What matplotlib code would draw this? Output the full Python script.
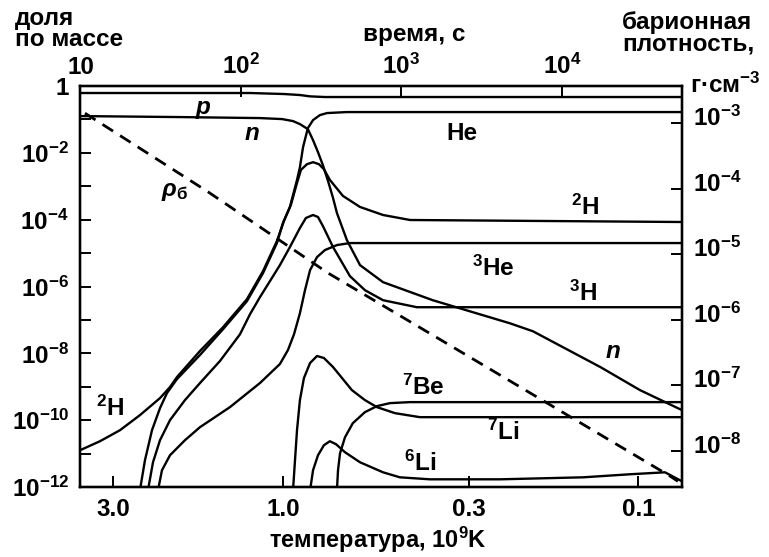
import matplotlib.pyplot as plt
import numpy as np
from matplotlib.ticker import FixedLocator, FixedFormatter, NullLocator
from matplotlib.transforms import ScaledTranslation

plt.rcParams['font.family'] = ['Liberation Sans', 'DejaVu Sans']
plt.rcParams['font.weight'] = 'bold'
plt.rcParams['mathtext.fontset'] = 'custom'
plt.rcParams['mathtext.rm'] = 'Liberation Sans:bold'
plt.rcParams['mathtext.it'] = 'Liberation Sans:bold:italic'
plt.rcParams['mathtext.bf'] = 'Liberation Sans:bold'

# temperature in 10^9 K, abundances as log10 of mass fraction
p_T = [3.724, 1.238, 0.994, 0.896, 0.839, 0.762, 0.0754]
p_lg = [-0.21, -0.21, -0.24, -0.27, -0.31, -0.33, -0.33]

n_T = [3.724, 1.949, 1.161, 1.006, 0.937, 0.896, 0.851, 0.823, 0.797, 0.772, 0.747,
       0.723, 0.705, 0.661, 0.607, 0.523, 0.379, 0.230, 0.198, 0.128, 0.0990, 0.0754]
n_lg = [-0.90, -0.93, -0.96, -0.99, -1.05, -1.14, -1.29, -1.62, -1.98, -2.37, -2.84,
        -3.35, -3.80, -4.61, -5.36, -5.87, -6.41, -7.10, -7.34, -8.41, -9.10, -9.70]

he4_T = [2.526, 2.445, 2.336, 2.218, 2.120, 1.987, 1.712, 1.475, 1.263, 1.138, 1.040,
         1.000, 0.956, 0.913, 0.896, 0.878, 0.851, 0.823, 0.787, 0.752, 0.661, 0.0754]
he4_lg = [-12.10, -11.20, -10.30, -9.64, -9.19, -8.77, -8.05, -7.28, -6.44, -5.60, -4.70,
          -4.10, -3.62, -2.81, -2.43, -1.83, -1.26, -1.02, -0.87, -0.81, -0.78, -0.78]

h2_T = [3.724, 3.272, 2.874, 2.526, 2.218, 2.079, 1.987, 1.712, 1.475, 1.263, 1.138, 1.040,
        0.994, 0.950, 0.913, 0.890, 0.856, 0.823, 0.792, 0.767, 0.738, 0.678, 0.607,
        0.523, 0.439, 0.0754]
h2_lg = [-10.90, -10.63, -10.30, -9.85, -9.34, -9.01, -8.71, -7.93, -7.22, -6.38, -5.54, -4.64,
         -4.04, -3.56, -2.90, -2.51, -2.34, -2.28, -2.34, -2.49, -2.81, -3.29, -3.62,
         -3.86, -4.01, -4.07]

h3_T = [2.398, 2.321, 2.218, 2.079, 1.887, 1.712, 1.504, 1.321, 1.238, 1.161, 1.088, 1.020,
        0.956, 0.896, 0.862, 0.823, 0.797, 0.772, 0.723, 0.648, 0.588, 0.523, 0.420, 0.0754]
h3_lg = [-12.10, -11.26, -10.60, -10.00, -9.40, -8.89, -8.23, -7.43, -6.83, -6.32, -5.84, -5.36,
         -4.82, -4.25, -3.95, -3.86, -3.92, -4.19, -4.82, -5.69, -6.11, -6.41, -6.62, -6.62]

he3_T = [2.247, 2.190, 2.079, 1.887, 1.712, 1.410, 1.161, 1.020, 0.968, 0.931, 0.896,
         0.867, 0.839, 0.802, 0.762, 0.705, 0.648, 0.0754]
he3_lg = [-12.10, -11.50, -11.05, -10.60, -10.21, -9.61, -8.89, -8.32, -7.90, -7.43, -6.80,
          -6.11, -5.51, -5.12, -4.91, -4.76, -4.70, -4.70]

li7_T = [0.937, 0.925, 0.913, 0.896, 0.873, 0.839, 0.802, 0.767, 0.723, 0.682, 0.640,
         0.588, 0.544, 0.484, 0.412, 0.0754]
li7_lg = [-12.10, -11.20, -10.30, -9.40, -8.74, -8.29, -8.08, -8.14, -8.41, -8.74, -9.10,
          -9.40, -9.61, -9.79, -9.91, -9.91]

be7_T = [0.705, 0.700, 0.691, 0.669, 0.636, 0.588, 0.544, 0.500, 0.439, 0.0754]
be7_lg = [-12.10, -11.50, -10.99, -10.51, -10.09, -9.76, -9.58, -9.49, -9.46, -9.46]

li6_T = [0.839, 0.823, 0.797, 0.767, 0.738, 0.709, 0.669, 0.607, 0.523, 0.469, 0.386,
         0.245, 0.143, 0.106, 0.0842, 0.0754]
li6_lg = [-12.10, -11.50, -11.05, -10.75, -10.63, -10.72, -10.96, -11.26, -11.56, -11.71, -11.77,
          -11.77, -11.71, -11.62, -11.56, -11.83]

# baryon density, log10 g/cm^3
rho_T = [3.606, 1.626, 0.747, 0.250, 0.0815, 0.0774]
rho_lg = [-2.85, -4.05, -5.29, -6.82, -8.39, -8.47]

T_ticks = [3.0, 1.0, 0.3, 0.1]
T_labels = ['3.0', '1.0', '0.3', '0.1']
t_ticks = [10, 100, 1000, 10000]
t_labels = ['10', '$10^2$', '$10^3$', '$10^4$']
X_ticks = [10.0 ** -k for k in range(13)]
X_labels = ['1' if k == 0 else ('$10^{-%d}$' % k if k % 2 == 0 else '') for k in range(13)]
rho_ticks = [10.0 ** -k for k in range(3, 9)]
rho_labels = ['$10^{-%d}$' % k for k in range(3, 9)]

fs = 17.5
lw_axis = 1.6

fig = plt.figure(figsize=(7.69, 5.57), dpi=100)
ax = fig.add_axes([0.10403, 0.12567, 0.78283, 0.71993])
ax.set_xscale('log')
ax.set_yscale('log')
ax.set_xlim(3.724, 0.0754)
ax.set_ylim(1e-12, 1)

curves = [(p_T, p_lg), (n_T, n_lg), (he4_T, he4_lg), (h2_T, h2_lg), (h3_T, h3_lg),
          (he3_T, he3_lg), (li7_T, li7_lg), (be7_T, be7_lg), (li6_T, li6_lg)]
for T, lg in curves:
    ax.plot(T, 10.0 ** np.array(lg), color='k', lw=1.7,
            solid_joinstyle='round', solid_capstyle='round')

ax.xaxis.set_major_locator(FixedLocator(T_ticks))
ax.xaxis.set_major_formatter(FixedFormatter(T_labels))
ax.xaxis.set_minor_locator(NullLocator())
ax.yaxis.set_major_locator(FixedLocator(X_ticks))
ax.yaxis.set_major_formatter(FixedFormatter(X_labels))
ax.yaxis.set_minor_locator(NullLocator())
ax.tick_params(direction='in', length=8, width=1.4, labelsize=fs, pad=8)

# time axis on top
axt = ax.twiny()
axt.set_xscale('log')
axt.set_xlim(9.93, 55970)
axt.xaxis.set_major_locator(FixedLocator(t_ticks))
axt.xaxis.set_major_formatter(FixedFormatter(t_labels))
axt.xaxis.set_minor_locator(NullLocator())
axt.tick_params(direction='in', length=8, width=1.4, labelsize=fs, pad=5)

# baryon density on the right
axr = ax.twinx()
axr.set_yscale('log')
axr.set_ylim(10 ** -8.557, 10 ** -2.435)
axr.plot(rho_T, 10.0 ** np.array(rho_lg), color='k', lw=2.0, ls='--', dashes=(4.5, 3.0))
axr.yaxis.set_major_locator(FixedLocator(rho_ticks))
axr.yaxis.set_major_formatter(FixedFormatter(rho_labels))
axr.yaxis.set_minor_locator(NullLocator())
axr.tick_params(direction='in', length=8, width=1.4, labelsize=fs, pad=8)

for a in (ax, axt, axr):
    for s in a.spines.values():
        s.set_linewidth(lw_axis)

shift = ScaledTranslation(0, 0.07, fig.dpi_scale_trans)
for lab in axr.get_yticklabels():
    lab.set_transform(lab.get_transform() + shift)

# curve labels
ax.text(1.679, 10 ** -0.63, 'p', fontsize=fs, style='italic', ha='center', va='center')
ax.text(1.222, 10 ** -1.41, 'n', fontsize=fs, style='italic', ha='center', va='center')
ax.text(0.1179, 10 ** -7.96, 'n', fontsize=fs, style='italic', ha='center', va='center')
ax.text(0.3136, 10 ** -1.41, 'He', fontsize=fs, ha='center', va='center')
ax.text(2.013, 10 ** -3.17, r'$\rho_{\mathrm{б}}$', fontsize=fs, ha='center', va='center')
ax.text(0.1414, 10 ** -3.62, r'$^{2}$H', fontsize=fs, ha='center', va='center')
ax.text(3.067, 10 ** -9.64, r'$^{2}$H', fontsize=fs, ha='center', va='center')
ax.text(0.2566, 10 ** -5.45, r'$^{3}$He', fontsize=fs, ha='center', va='center')
ax.text(0.1432, 10 ** -6.20, r'$^{3}$H', fontsize=fs, ha='center', va='center')
ax.text(0.404, 10 ** -9.01, r'$^{7}$Be', fontsize=fs, ha='center', va='center')
ax.text(0.2405, 10 ** -10.36, r'$^{7}$Li', fontsize=fs, ha='center', va='center')
ax.text(0.412, 10 ** -11.29, r'$^{6}$Li', fontsize=fs, ha='center', va='center')

# axis titles
W, H = 769, 557
fig.text(15 / W, 1 - 7 / H, 'доля\nпо массе', fontsize=fs, ha='left', va='top', linespacing=0.9)
fig.text(414 / W, 1 - 35 / H, 'время, с', fontsize=fs, ha='center', va='center')
fig.text(622 / W, 1 - 11 / H, 'барионная\nплотность,', fontsize=fs, ha='left', va='top', linespacing=0.9)
fig.text(690 / W, 1 - 85 / H, 'г·см$^{-3}$', fontsize=fs, ha='left', va='center')
fig.text(378 / W, 1 - 548 / H, 'температура, $10^9$K', fontsize=17, ha='center', va='baseline')

fig.savefig('out.png', dpi=100)
